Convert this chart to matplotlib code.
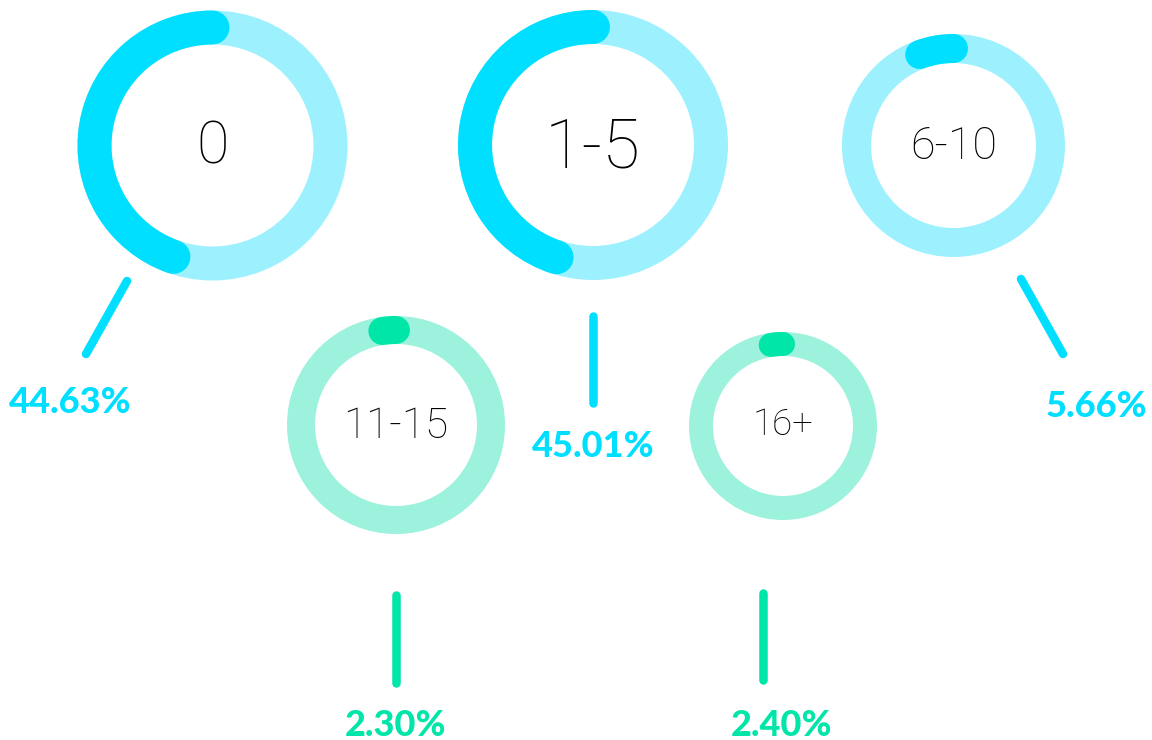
import matplotlib
matplotlib.use("Agg")
import matplotlib.pyplot as plt
from matplotlib.patches import Arc, Circle

W, H = 1152, 740

# data
groups = ["0", "1-5", "6-10", "11-15", "16+"]
shares = [44.63, 45.01, 5.66, 2.30, 2.40]
labels = ["44.63%", "45.01%", "5.66%", "2.30%", "2.40%"]

cyan, cyan_lt = "#00DFFF", "#9DF1FE"
green, green_lt = "#00E5A8", "#9CF2DC"
ring_colors = [cyan, cyan, cyan, green, green]
ring_bg = [cyan_lt, cyan_lt, cyan_lt, green_lt, green_lt]

# layout (pixel positions, y measured from top)
centers = [(212.5, 145.5), (593, 145), (953.5, 145.5), (396, 425), (783, 426)]
radii = [118, 118, 97, 95, 82]
widths = [34, 34, 29, 28, 24]
txt_size = [42, 49, 32, 30, 26]
txt_base = [164, 167, 159, 438, 435]
lines = [((127, 281), (86, 354)), ((593, 316), (593, 403)), ((1021, 279), (1063, 354)),
         ((396, 595), (396, 683)), ((763, 593), (763, 680))]
lab_pos = [(70, 413), (593, 457), (1096, 417), (396, 736), (782, 736)]

PT = 72 / 100.0  # px -> pt at dpi 100


def Y(y):
    return H - y


fig = plt.figure(figsize=(W / 100, H / 100), dpi=100)
ax = fig.add_axes([0, 0, 1, 1])
ax.set_xlim(0, W)
ax.set_ylim(0, H)
ax.set_aspect("equal")
ax.axis("off")

for i in range(len(groups)):
    cx, cy = centers[i]
    r, w = radii[i], widths[i]
    ax.add_patch(Circle((cx, Y(cy)), r, fill=False, edgecolor=ring_bg[i], linewidth=w * PT))
    ax.add_patch(Arc((cx, Y(cy)), 2 * r, 2 * r, theta1=90, theta2=90 + shares[i] * 3.6,
                     edgecolor=ring_colors[i], linewidth=w * PT, capstyle="round"))
    ax.text(cx, Y(txt_base[i]), groups[i], ha="center", va="baseline",
            fontsize=txt_size[i] / 0.71 * PT, family=["Roboto", "DejaVu Sans"], weight="light", color="black")
    (x0, y0), (x1, y1) = lines[i]
    ax.plot([x0, x1], [Y(y0), Y(y1)], color=ring_colors[i], linewidth=8.5 * PT, solid_capstyle="round")
    lx, ly = lab_pos[i]
    ax.text(lx, Y(ly), labels[i], ha="center", va="baseline", fontsize=26 / 0.72 * PT,
            family=["Lato", "DejaVu Sans"], weight="black", color=ring_colors[i])

fig.savefig("out.png", dpi=100)
